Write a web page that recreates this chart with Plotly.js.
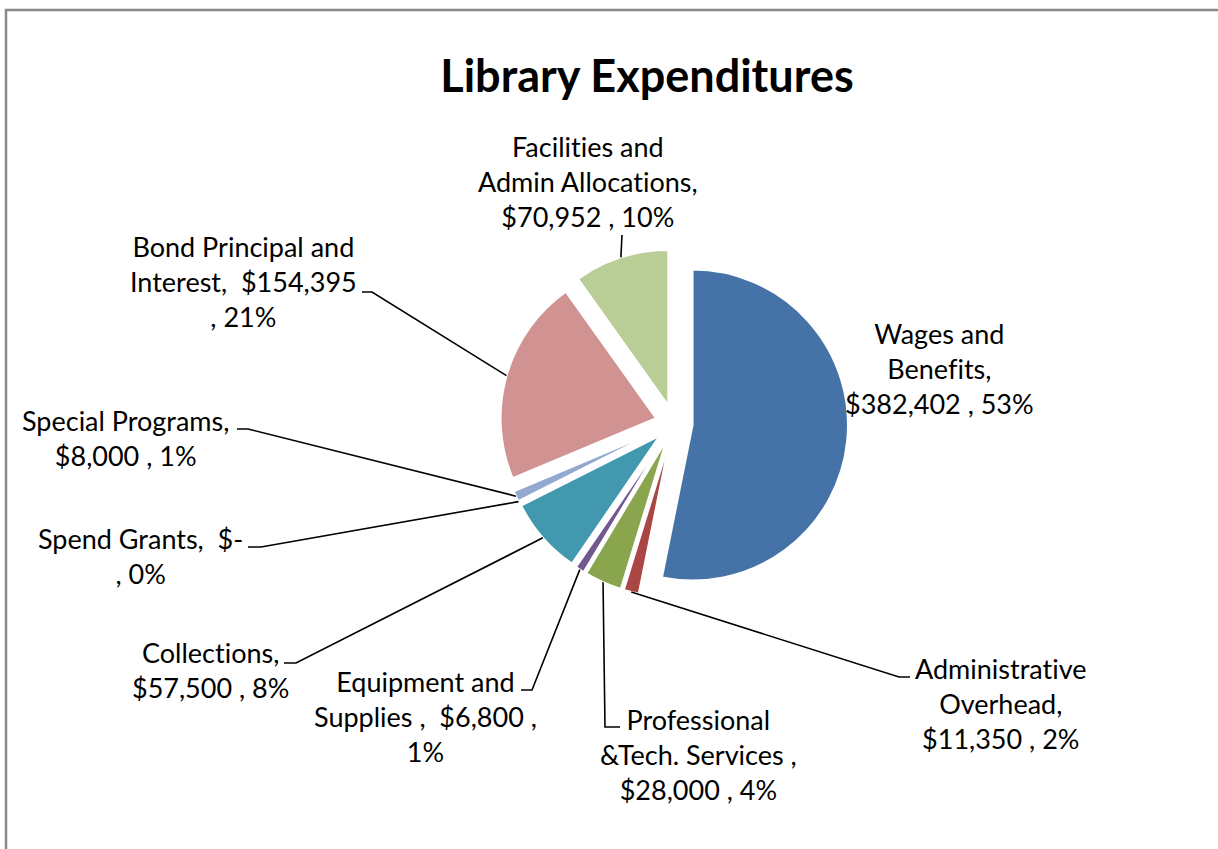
<!DOCTYPE html>
<html>
<head>
<meta charset="utf-8">
<script src="https://cdn.plot.ly/plotly-3.0.1.min.js"></script>
<style>
html,body{margin:0;padding:0;background:#fff;}
text, tspan { font-variant-ligatures: none !important; font-feature-settings: "liga" 0, "dlig" 0, "clig" 0 !important; }
</style>
</head>
<body>
<div id="chart" style="width:1218px;height:849px;"></div>
<script>
// ---- data ----
const categories = [
  "Wages and Benefits",
  "Administrative Overhead",
  "Professional &Tech. Services",
  "Equipment and Supplies",
  "Collections",
  "Spend Grants",
  "Special Programs",
  "Bond Principal and Interest",
  "Facilities and Admin Allocations"
];
const amounts = [382402, 11350, 28000, 6800, 57500, 0, 8000, 154395, 70952];
const sliceColors = ["#4572A7", "#AA4643", "#89A54E", "#71588F", "#4198AF", "#DB843D", "#93A9CF", "#D19392", "#B9CD96"];
const labelTexts = [
  "Wages and<br>Benefits,<br>$382,402 , 53%",
  "Administrative<br>Overhead,<br>$11,350 , 2%",
  "Professional<br>&Tech. Services ,<br>$28,000 , 4%",
  "Equipment and<br>Supplies ,  $6,800 ,<br>1%",
  "Collections,<br>$57,500 , 8%",
  "Spend Grants,  $-<br>, 0%",
  "Special Programs,<br>$8,000 , 1%",
  "Bond Principal and<br>Interest,  $154,395<br>, 21%",
  "Facilities and<br>Admin Allocations,<br>$70,952 , 10%"
];

// ---- layout geometry (pixels) ----
const W = 1218, H = 849;
const pullFrac = 0.12;
const dom = {x: [0.4104, 0.6963], y: [0.2959, 0.7071]};
// label block centres and leader elbows (pixels)
const labelPos = [
  {x: 939, y: 368, elbow: null},
  {x: 1001, y: 703, elbow: [[910, 677], [899, 677]]},
  {x: 698, y: 754, elbow: [[620, 727], [605, 727]]},
  {x: 425, y: 716, elbow: [[521, 690], [532, 690]]},
  {x: 210, y: 670, elbow: [[284, 663], [296, 663]]},
  {x: 140, y: 556, elbow: [[248, 547], [261, 547]]},
  {x: 125, y: 438, elbow: [[237, 429], [248, 429]]},
  {x: 243, y: 282, elbow: [[362, 292], [372, 292]]},
  {x: 588, y: 182, elbow: [[622, 235]]}
];

const px = v => v / W;
const py = v => 1 - v / H;

// replicate plotly pie geometry to find slice tips
const boxW = W * (dom.x[1] - dom.x[0]);
const boxH = H * (dom.y[1] - dom.y[0]);
const R = Math.min(boxW, boxH) / (2 + 2 * pullFrac);
const cx = W * (dom.x[0] + dom.x[1]) / 2;
const cy = H * (1 - dom.y[1]) + boxH / 2;
const total = amounts.reduce((a, b) => a + b, 0);
let cum = 0;
const midAngles = amounts.map(v => { const m = (cum + v / 2) / total * 2 * Math.PI; cum += v; return m; });
function tip(i) {
  const a = midAngles[i];
  const d = R * (1 + pullFrac);
  return [cx + d * Math.sin(a), cy - d * Math.cos(a)];
}

const shapes = [{
  type: 'rect', xref: 'paper', yref: 'paper',
  x0: px(6), y0: py(10), x1: 1.1, y1: -0.1,
  line: {color: '#898989', width: 2.5}, fillcolor: 'rgba(0,0,0,0)', layer: 'below'
}];
const annotations = [];
labelPos.forEach((p, i) => {
  annotations.push({
    xref: 'paper', yref: 'paper', x: px(p.x), y: py(p.y),
    xanchor: 'center', yanchor: 'middle', showarrow: false, align: 'center',
    text: labelTexts[i], font: {family: 'Lato, sans-serif', size: 27, color: '#000'}
  });
  if (p.elbow) {
    const pts = p.elbow.concat([tip(i)]);
    const path = pts.map((q, k) => (k ? 'L ' : 'M ') + px(q[0]) + ' ' + py(q[1])).join(' ');
    shapes.push({type: 'path', xref: 'paper', yref: 'paper', path: path, line: {color: '#000', width: 1.6}});
  }
});

const trace = {
  type: 'pie',
  labels: categories,
  values: amounts,
  sort: false,
  direction: 'clockwise',
  rotation: 0,
  pull: amounts.map(() => pullFrac),
  marker: {colors: sliceColors, line: {color: '#ffffff', width: 2}},
  textinfo: 'none',
  hoverinfo: 'label+value+percent',
  domain: dom,
  showlegend: false
};

const layout = {
  width: W, height: H,
  margin: {l: 0, r: 0, t: 0, b: 0},
  paper_bgcolor: '#fff',
  showlegend: false,
  title: {
    text: 'Library Expenditures',
    x: 647 / W, xanchor: 'center', xref: 'paper',
    y: 1 - 76 / H, yanchor: 'middle', yref: 'container',
    font: {family: 'Lato, sans-serif', size: 45, weight: 700, color: '#000'}
  },
  shapes: shapes,
  annotations: annotations
};

Plotly.newPlot('chart', [trace], layout, {displayModeBar: false, staticPlot: true});
</script>
</body>
</html>
